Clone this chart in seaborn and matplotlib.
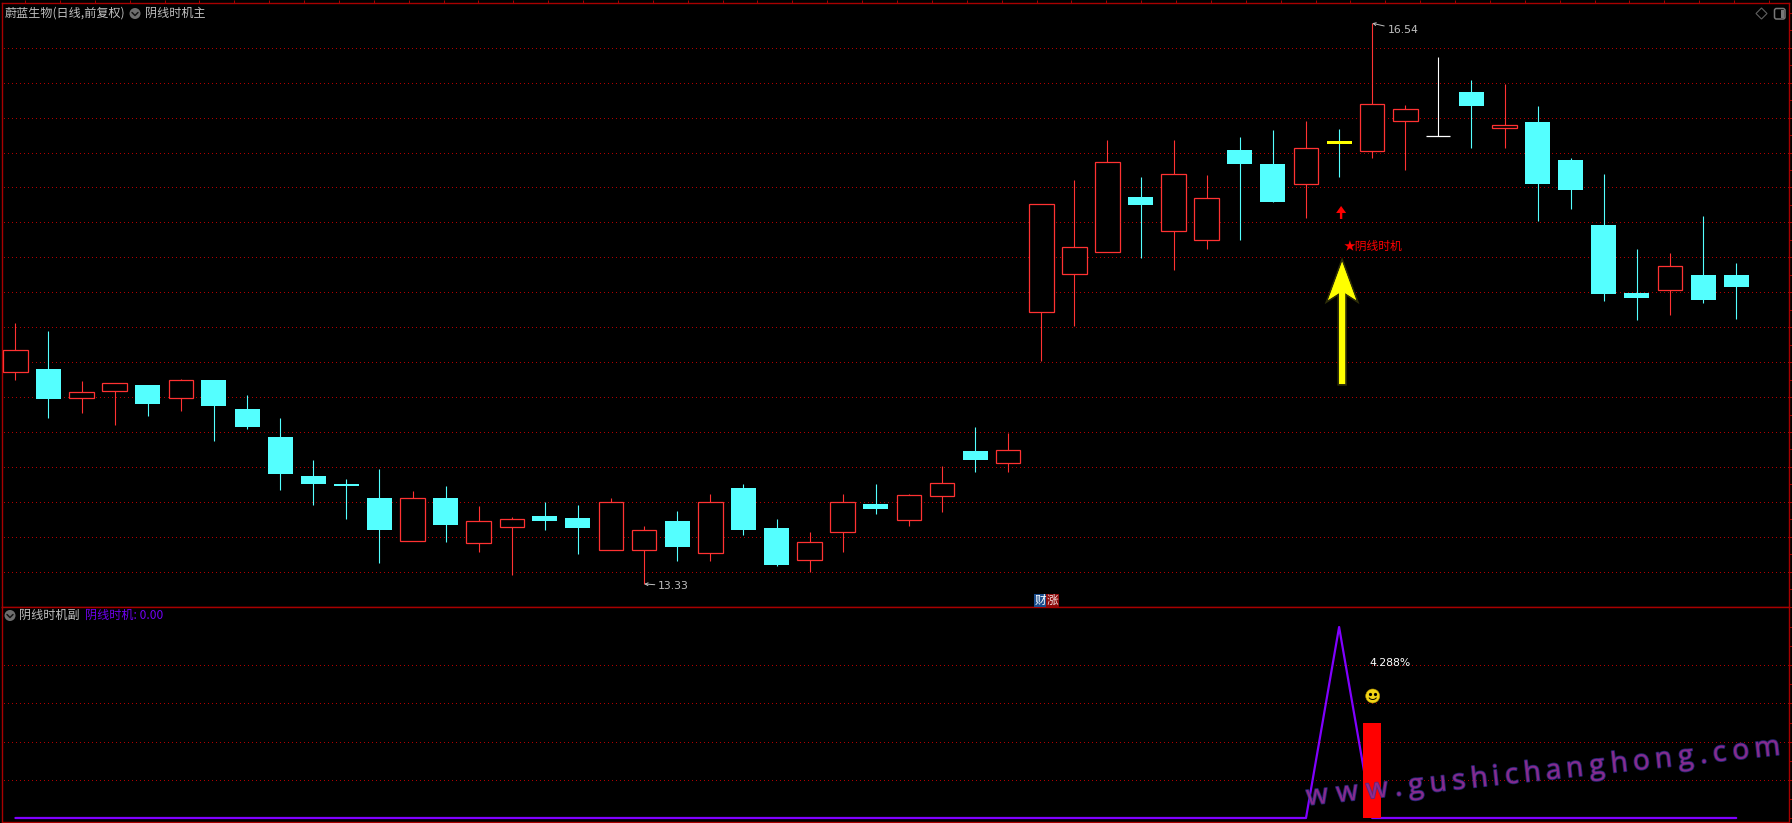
#!/usr/bin/env python3
import numpy as np
import matplotlib
matplotlib.use("Agg")
import matplotlib.pyplot as plt
import matplotlib.patheffects as pe
import seaborn as sns
from matplotlib.font_manager import FontProperties
from matplotlib.patches import Circle, FancyBboxPatch, Polygon, Rectangle
from matplotlib.textpath import TextPath
from matplotlib.transforms import Affine2D, ScaledTranslation

# Candles
opens = [14.545, 14.561, 14.397, 14.437, 14.469, 14.397, 14.498, 14.332, 14.172, 13.948,
         13.903, 13.822, 13.578, 13.822, 13.566, 13.658, 13.719, 13.708, 13.526, 13.526,
         13.691, 13.509, 13.880, 13.651, 13.469, 13.629, 13.788, 13.698, 13.836, 14.091,
         14.024, 14.885, 15.106, 15.232, 15.546, 15.353, 15.301, 15.815, 15.735, 15.622,
         15.866, 15.811, 15.982, 15.893, 16.147, 15.942, 15.975, 15.757, 15.385, 14.996,
         15.015, 15.099, 15.099]
closes = [14.668, 14.389, 14.427, 14.479, 14.361, 14.496, 14.349, 14.229, 13.960, 13.903,
          13.891, 13.639, 13.821, 13.668, 13.689, 13.700, 13.691, 13.651, 13.798, 13.637,
          13.542, 13.798, 13.639, 13.439, 13.569, 13.798, 13.759, 13.838, 13.907, 14.040,
          14.095, 15.504, 15.258, 15.744, 15.500, 15.676, 15.538, 15.735, 15.517, 15.824,
          15.849, 16.076, 16.048, 15.893, 16.067, 15.956, 15.620, 15.586, 14.990, 14.967,
          15.149, 14.956, 15.030]
highs = [14.824, 14.778, 14.492, 14.479, 14.469, 14.504, 14.498, 14.412, 14.280, 14.040,
         13.931, 13.988, 13.862, 13.891, 13.777, 13.714, 13.799, 13.782, 13.822, 13.662,
         13.748, 13.845, 13.903, 13.702, 13.628, 13.845, 13.903, 13.845, 14.006, 14.229,
         14.194, 15.504, 15.643, 15.872, 15.660, 15.872, 15.672, 15.889, 15.929, 15.981,
         15.935, 16.54, 16.072, 16.347, 16.215, 16.193, 16.067, 15.769, 15.677, 15.248,
         15.225, 15.437, 15.168]
lows = [14.498, 14.280, 14.309, 14.240, 14.292, 14.320, 14.149, 14.217, 13.868, 13.782,
        13.702, 13.450, 13.578, 13.570, 13.513, 13.382, 13.639, 13.502, 13.526, 13.33,
        13.462, 13.462, 13.611, 13.433, 13.399, 13.513, 13.731, 13.662, 13.742, 13.971,
        13.971, 14.607, 14.807, 15.232, 15.196, 15.128, 15.248, 15.299, 15.517, 15.425,
        15.660, 15.769, 15.700, 15.893, 15.826, 15.826, 15.408, 15.477, 14.950, 14.841,
        14.870, 14.939, 14.847]

# Lower panel: the line is zero except for one spike, the bar is one day later
signal_line = [0] * 40 + [100] + [0] * 12
signal_bars = [0] * 41 + [50] + [0] * 11
signal_day = 40
bar_day = 41
high_day = 41
low_day = 19
high_label = "16.54"
low_label = "13.33"
pct_label = "4.288%"

title_stock = "蔚蓝生物(日线,前复权)"
title_main = "阴线时机主"
title_sub = "阴线时机副"
title_value = "阴线时机: 0.00"
signal_label = "★阴线时机"
watermark = "www.gushichanghong.com"

price_grid = [13.4, 13.6, 13.8, 14.0, 14.2, 14.4, 14.6, 14.8, 15.0, 15.2, 15.4, 15.6, 15.8, 16.0, 16.2, 16.4]
sub_grid = [20, 40, 60, 80]

RED = "#FF3232"
CYAN = "#54FFFF"
YELLOW = "#FFFF00"
PURPLE = "#8000FF"
FRAME = "#A80000"
GRID = "#B00000"
GRAY = "#C0C0C0"

W, H = 1792, 823
sns.set_theme(style="dark", rc={"axes.facecolor": "black", "figure.facecolor": "black",
                                "axes.edgecolor": FRAME, "xtick.color": FRAME, "ytick.color": FRAME})
plt.rcParams["font.family"] = ["Noto Sans CJK SC", "DejaVu Sans"]
days = np.arange(len(opens))

fig = plt.figure(figsize=(W / 100, H / 100), dpi=100)


def panel(top, bottom):
    return fig.add_axes([1.5 / W, 1 - bottom / H, 1787 / W, (bottom - top) / H])


ax = panel(3, 607)
ax_sub = panel(607, 822)

# Main panel
ax.hlines(price_grid, -0.35, 53.6, colors=GRID, linewidth=0.72, linestyles=(0, (1, 3)),
          antialiased=False, zorder=1)
for i in days:
    o, c = opens[i], closes[i]
    if o == c:
        colour = "white"
    elif c > o:
        colour = RED
    else:
        colour = CYAN
    ax.vlines(i, lows[i], highs[i], color=colour, linewidth=0.8, zorder=2)
    if o == c:
        ax.hlines(o, i - 0.36, i + 0.36, color=colour, linewidth=0.9, zorder=3)
    elif c > o:
        ax.bar(i, c - o, bottom=o, width=0.74, facecolor="black", edgecolor=colour, linewidth=0.9, zorder=3)
    else:
        body = YELLOW if i == signal_day else colour
        ax.bar(i, o - c, bottom=c, width=0.755, color=body, linewidth=0, zorder=3)

ax.annotate(high_label, xy=(high_day, highs[high_day]), xytext=(11, -5), textcoords="offset points",
            color=GRAY, fontsize=7.8, va="center", family="DejaVu Sans",
            arrowprops=dict(arrowstyle="->", color=GRAY, lw=0.7, mutation_scale=5, shrinkA=0, shrinkB=0))
ax.annotate(low_label, xy=(low_day, lows[low_day]), xytext=(10, -1.5), textcoords="offset points",
            color=GRAY, fontsize=7.8, va="center", family="DejaVu Sans",
            arrowprops=dict(arrowstyle="->", color=GRAY, lw=0.7, mutation_scale=5, shrinkA=0, shrinkB=0))


def at_day(axis, x, y):
    # vertices in pixels around a data point, y pointing up
    return Affine2D() + ScaledTranslation(x, y, axis.transData)


# small red arrow under the signal candle, big yellow one below it
sig_low = lows[signal_day]
red_arrow = [(2, -29), (7, -36), (3.2, -36), (3.2, -42), (0.8, -42), (0.8, -36), (-3, -36)]
ax.add_patch(Polygon(red_arrow, closed=True, color="#FF0000", lw=0,
                     transform=at_day(ax, signal_day, sig_low), zorder=5))
yellow_arrow = [(3, -85), (17, -123), (6, -116), (6, -207), (0, -207), (0, -116), (-11, -123)]
ax.add_patch(Polygon(yellow_arrow, closed=True, facecolor=YELLOW, edgecolor="none", zorder=5,
                     transform=at_day(ax, signal_day, sig_low),
                     path_effects=[pe.withStroke(linewidth=2.5, foreground="#2E2E08"), pe.Normal()]))
ax.annotate(signal_label, xy=(signal_day, sig_low), xytext=(3.2, -50), textcoords="offset points",
            color="#FF0000", fontsize=8.5, va="center", ha="left")

# Lower panel
ax_sub.hlines(sub_grid, -0.35, 53.6, colors=GRID, linewidth=0.72, linestyles=(0, (1, 3)),
              antialiased=False, zorder=1)
sns.lineplot(x=days, y=signal_line, color=PURPLE, linewidth=1.6, ax=ax_sub, legend=False, zorder=2)
sns.barplot(x=days, y=signal_bars, native_scale=True, color="#FF0000", saturation=1, width=0.55,
            linewidth=0, errorbar=None, ax=ax_sub)
for p in ax_sub.patches:
    p.set_zorder(3)
ax_sub.annotate(pct_label, xy=(bar_day, 80), xytext=(-2, 1.3), textcoords="offset points",
                color="white", fontsize=7.8, va="center", family="DejaVu Sans")

# Scales and frame
ax.set_xlim(-0.42, 53.58)
ax.set_ylim(13.198, 16.656)
ax_sub.set_xlim(-0.42, 53.58)
ax_sub.set_ylim(-2.1, 110.5)
for a in (ax, ax_sub):
    a.yaxis.tick_right()
    a.tick_params(axis="y", length=2.2, width=0.7, labelright=False, right=True, left=False)
    a.set_xlabel("")
    a.set_ylabel("")
    for s in a.spines.values():
        s.set_color(FRAME)
        s.set_linewidth(1.0)
    a.grid(False)
ax.set_yticks(np.arange(13.2, 16.65, 0.1))
ax_sub.set_yticks(np.arange(0, 110, 10))
ax.xaxis.tick_top()
ax.set_xticks(np.arange(0.29, 53.5, 1.054))
ax.tick_params(axis="x", length=2.2, width=0.7, labeltop=False, top=True, bottom=False)
ax_sub.set_xticks([])

# Header texts, icons and watermark sit on a pixel overlay
ov = fig.add_axes([0, 0, 1, 1])
ov.set_xlim(0, W)
ov.set_ylim(H, 0)
ov.axis("off")
ov.patch.set_visible(False)


def chevron(x, y):
    ov.add_patch(Circle((x, y), 5.5, facecolor="#6E6E6E", edgecolor="none"))
    ov.plot([x - 3, x, x + 3], [y - 1, y + 2, y - 1], color="#151515", lw=1.1)


ov.text(5, 13, title_stock, color=GRAY, fontsize=8.7, va="center")
chevron(135, 13.5)
ov.text(145.5, 13, title_main, color=GRAY, fontsize=8.7, va="center")
chevron(10, 615.5)
ov.text(19, 615.5, title_sub, color=GRAY, fontsize=8.7, va="center")
ov.text(85, 615.5, title_value, color="#7000F0", fontsize=8.7, va="center")

ov.add_patch(Polygon([(1761.5, 8), (1767, 13.5), (1761.5, 19), (1756, 13.5)], closed=True,
                     facecolor="none", edgecolor="#606060", lw=0.8))
ov.add_patch(FancyBboxPatch((1775, 9), 9.5, 9.5, boxstyle="round,pad=0.5,rounding_size=2",
                            facecolor="none", edgecolor="#777777", lw=1.1))
ov.add_patch(Rectangle((1780.5, 10), 3.5, 8, facecolor="#777777", edgecolor="none"))

ov.add_patch(Rectangle((1034, 594), 12, 13, facecolor="#1A4C8C", edgecolor="none"))
ov.add_patch(Rectangle((1046, 594), 13, 13, facecolor="#8C0A0A", edgecolor="none"))
ov.text(1040, 600.5, "财", color="white", fontsize=8.4, ha="center", va="center")
ov.text(1052.5, 600.5, "涨", color="#F0E0E0", fontsize=8.4, ha="center", va="center")

# smiley above the red bar
sx, sy = 1372.7, 696
ov.add_patch(Circle((sx, sy), 7, facecolor="#F2D416", edgecolor="#B09000", lw=0.4))
ov.plot([sx - 2.5, sx + 2.5], [sy - 2, sy - 2], "o", color="black", ms=1.3)
t = np.linspace(0.15 * np.pi, 0.85 * np.pi, 12)
ov.plot(sx + 4 * np.cos(t), sy + 0.5 + 3 * np.sin(t), color="black", lw=0.7)

# watermark is laid out letter by letter because it has wide tracking
prop = FontProperties(family="Open Sans", weight=500)
size_px = 28
wide = [TextPath((0, 0), ch, size=size_px, prop=prop).get_extents().width for ch in watermark]
gap = (450 - sum(wide) + (wide[0] + wide[-1]) / 2) / (len(watermark) - 1)
cx = 1318.0
angle = 6.1
for k, ch in enumerate(watermark):
    cy = 804 - (cx - 1318) * np.tan(np.radians(angle))
    ov.text(cx, cy, ch, fontproperties=prop, fontsize=size_px * 0.72, color="#A02C90", alpha=0.72,
            ha="center", va="baseline", rotation=angle, rotation_mode="anchor", zorder=10,
            path_effects=[pe.withStroke(linewidth=1.3, foreground="#30309A")])
    if k < len(watermark) - 1:
        cx += (wide[k] + wide[k + 1]) / 2 + gap

fig.savefig("out.png", dpi=100, facecolor="black")
